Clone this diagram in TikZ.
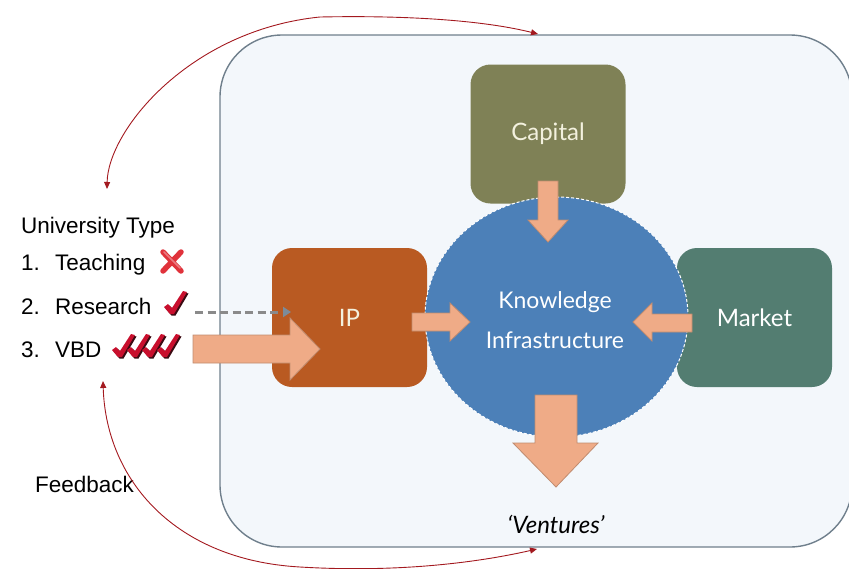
\documentclass[tikz,border=0pt]{standalone}
\usepackage{fontspec}
\setmainfont{Liberation Sans}
\newfontfamily\boxfont{Lato}
\usetikzlibrary{shapes.geometric,arrows.meta}
\definecolor{framefill}{HTML}{F3F7FB}
\definecolor{framedraw}{HTML}{6F7F8C}
\definecolor{capitalc}{HTML}{7F8156}
\definecolor{ipc}{HTML}{B95A22}
\definecolor{marketc}{HTML}{537D71}
\definecolor{kic}{HTML}{4C80B8}
\definecolor{flow}{HTML}{EFAB87}
\definecolor{flowedge}{HTML}{C08C70}
\definecolor{feedc}{HTML}{A3191F}
\definecolor{cream}{HTML}{F3F1DE}
\definecolor{tickred}{HTML}{C80F2D}
\definecolor{tickdark}{HTML}{3B0A12}
\definecolor{crossred}{HTML}{E0323B}
\definecolor{dashc}{HTML}{8A8A8A}
\definecolor{dashtip}{HTML}{7D8B98}

\begin{document}
\begin{tikzpicture}[x=1pt,y=-1pt,
  factor/.style={rounded corners=20pt, inner sep=0pt, minimum width=155pt,
    minimum height=139pt, font=\boxfont\fontsize{24}{28}\selectfont},
  blockarrow/.style={fill=flow, draw=flowedge, line width=0.8pt, line join=miter},
  feedback/.style={draw=feedc, line width=0.9pt,
    {Triangle[length=7pt,width=6pt]}-{Triangle[length=7pt,width=6pt]}},
  dashlink/.style={color=dashc, line width=3pt, dash pattern=on 8pt off 4.5pt},
  listtext/.style={anchor=base west, inner sep=0pt, font=\fontsize{22.5}{26}\selectfont},
  kitext/.style={anchor=base, inner sep=0pt, text=white, font=\boxfont\fontsize{23}{28}\selectfont},
  tick/.pic={
    \fill[tickdark] (1.5,7.5) -- (5.5,4.5) -- (9.5,8.5) -- (20.5,-8.5) -- (24.5,-7.5) -- (11.5,14.5) -- (7.5,14.5) -- cycle;
    \fill[tickred] (0,6) -- (4,3) -- (8,7) -- (19,-10) -- (23,-9) -- (10,13) -- (6,13) -- cycle;
  }
]
\useasboundingbox (0,0) rectangle (849,568);
\clip (0,0) rectangle (849,568);

% the venture-creation environment
\node[draw=framedraw, fill=framefill, line width=1.4pt, rounded corners=62pt,
  minimum width=632pt, minimum height=512pt, inner sep=0pt] (frame) at (536,291) {};

% the three inputs
\node[factor, fill=capitalc, text=cream] (capital) at (548,134) {Capital};
\node[factor, fill=ipc, text=cream] (ip) at (349.5,317.5) {IP};
\node[factor, fill=marketc, text=white] (market) at (754.5,317.5) {Market};

% knowledge infrastructure hub
\node[ellipse, fill=kic, draw=white, dash pattern=on 3pt off 2pt, line width=1pt,
  minimum width=263pt, minimum height=240pt, inner sep=0pt] (ki) at (556.5,317) {};
\node[kitext] (kitop) at (555,308) {Knowledge};
\node[kitext] (kibot) at (555,348) {Infrastructure};

% block arrows feeding the hub
\draw[blockarrow] (538,181) -- (558,181) -- (558,220) -- (568,220) -- (548,242) -- (528,220) -- (538,220) -- cycle;
\draw[blockarrow] (412,313) -- (450,313) -- (450,303) -- (470,322) -- (450,341) -- (450,331) -- (412,331) -- cycle;
\draw[blockarrow] (692,314) -- (652,314) -- (652,303) -- (633,322) -- (652,341) -- (652,332) -- (692,332) -- cycle;
\draw[blockarrow] (535,395) -- (577,395) -- (577,443) -- (598,443) -- (556,487) -- (513,443) -- (535,443) -- cycle;
\draw[blockarrow] (193,335) -- (290,335) -- (290,318) -- (320,349) -- (290,380) -- (290,363) -- (193,363) -- cycle;

% dashed link from research universities
\coordinate (dashA) at (195,312);
\coordinate (dashB) at (291,312);
\draw[dashlink, -{Triangle[length=8pt,width=10pt,fill=dashtip,color=dashtip]}] (dashA) -- (dashB);

% outcome
\node[anchor=base, inner sep=0pt, font=\boxfont\itshape\fontsize{24}{28}\selectfont] (ventures) at (556,533) {‘Ventures’};

% university typology
\node[listtext] (utype) at (21,233) {University Type};
\node[listtext] (n1) at (21,270) {1.};
\node[listtext] (teach) at (55,270) {Teaching};
\node[listtext] (n2) at (21,314) {2.};
\node[listtext] (research) at (55,314) {Research};
\node[listtext] (n3) at (21,357) {3.};
\node[listtext] (vbd) at (55,357) {VBD};
\node[listtext] (feedlabel) at (35,492) {Feedback};

% marks beside each type
\draw[crossred, line width=5.5pt, line cap=round] (163,252) -- (181,271);
\draw[crossred, line width=5.5pt, line cap=round] (181,252) -- (163,271);
\draw[white, opacity=0.35, line width=1.5pt, line cap=round] (164,252) -- (180,268);
\pic at (164,301) {tick};
\pic at (112,344) {tick};
\pic at (127,344) {tick};
\pic at (142,344) {tick};
\pic at (157,344) {tick};

% feedback loops
\coordinate (topA) at (107,189);
\coordinate (topB) at (538,34);
\draw[feedback] (topA) .. controls (108,130) and (190,30) .. (320,17)
  .. controls (420,15) and (490,22) .. (topB);
\coordinate (botA) at (103,381);
\coordinate (botB) at (537,549);
\draw[feedback] (botA) .. controls (106,480) and (175,560) .. (300,567)
  .. controls (400,573) and (480,562) .. (botB);
\end{tikzpicture}
\end{document}
